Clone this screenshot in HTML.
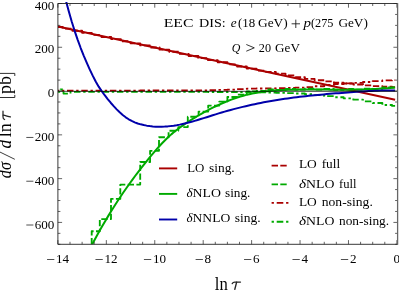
<!DOCTYPE html>
<html><head><meta charset="utf-8"><title>EEC DIS</title>
<style>
html,body{margin:0;padding:0;background:#fff;}
body{width:399px;height:298px;overflow:hidden;}
svg{display:block;}
text{font-family:"Liberation Serif",serif;fill:#000;}
.tk{font-size:13.1px;}
.lg{font-size:12.6px;}
.it{font-style:italic;}
</style></head><body>
<svg width="399" height="298" viewBox="0 0 399 298">
<rect width="399" height="298" fill="#fff"/>
<defs><clipPath id="cp"><rect x="57.9" y="2.1" width="339.7" height="242.2"/></clipPath></defs>
<g clip-path="url(#cp)" fill="none" stroke-linejoin="round">
<path d="M57.9,27.03 L62.74,27.03 L62.74,28.6 L72.43,28.6 L72.43,30.71 L82.11,30.71 L82.11,32.81 L91.8,32.81 L91.8,34.92 L101.49,34.92 L101.49,37.02 L111.17,37.02 L111.17,39.12 L120.86,39.12 L120.86,41.23 L130.54,41.23 L130.54,43.33 L140.23,43.33 L140.23,45.44 L149.91,45.44 L149.91,47.54 L159.6,47.54 L159.6,49.64 L169.29,49.64 L169.29,51.75 L178.97,51.75 L178.97,53.85 L188.66,53.85 L188.66,55.95 L198.34,55.95 L198.34,58.06 L208.03,58.06 L208.03,60.16 L217.71,60.16 L217.71,62.27 L227.4,62.27 L227.4,64.37 L237.09,64.37 L237.09,66.47 L246.77,66.47 L246.77,68.58 L256.46,68.58 L256.46,70.58 L266.14,70.58 L266.14,71.94 L275.83,71.94 L275.83,73.57 L285.51,73.57 L285.51,75.39 L295.2,75.39 L295.2,77.21 L304.89,77.21 L304.89,78.82 L314.57,78.82 L314.57,80.23 L324.26,80.23 L324.26,81.39 L333.94,81.39 L333.94,82.73 L343.63,82.73 L343.63,83.54 L353.31,83.54 L353.31,84.46 L363,84.46 L363,85.43 L372.69,85.43 L372.69,86.14 L382.37,86.14 L382.37,86.78 L392.06,86.78 L392.06,87.2 L395.1,87.2" stroke="#aa0000" stroke-width="1.85" stroke-dasharray="6.3,2.4"/>
<path d="M57.9,90.6 L62.74,90.6 L62.74,90.59 L72.43,90.59 L72.43,90.59 L82.11,90.59 L82.11,90.58 L91.8,90.58 L91.8,90.57 L101.49,90.57 L101.49,90.57 L111.17,90.57 L111.17,90.56 L120.86,90.56 L120.86,90.55 L130.54,90.55 L130.54,90.55 L140.23,90.55 L140.23,90.54 L149.91,90.54 L149.91,90.53 L159.6,90.53 L159.6,90.53 L169.29,90.53 L169.29,90.52 L178.97,90.52 L178.97,90.51 L188.66,90.51 L188.66,90.5 L198.34,90.5 L198.34,90.42 L208.03,90.42 L208.03,90.16 L217.71,90.16 L217.71,89.9 L227.4,89.9 L227.4,89.59 L237.09,89.59 L237.09,89.1 L246.77,89.1 L246.77,88.68 L256.46,88.68 L256.46,88.53 L266.14,88.53 L266.14,88.38 L275.83,88.38 L275.83,88.19 L285.51,88.19 L285.51,87.99 L295.2,87.99 L295.2,87.6 L304.89,87.6 L304.89,87.1 L314.57,87.1 L314.57,86.23 L324.26,86.23 L324.26,84.94 L333.94,84.94 L333.94,84.01 L343.63,84.01 L343.63,83.43 L353.31,83.43 L353.31,82.89 L363,82.89 L363,81.97 L372.69,81.97 L372.69,81.11 L382.37,81.11 L382.37,80.4 L392.06,80.4 L392.06,80.06 L395.1,80.06" stroke="#aa0000" stroke-width="1.85" stroke-dasharray="6.5,2.7,2.4,2.7" stroke-dashoffset="5.2"/>
<path d="M91.7,244.3 L91.7,231.2 L99.8,231.2 L99.8,219.1 L111,219.1 L111,198.9 L120.3,198.9 L120.3,184.6 L140.2,184.6 L140.2,162 L150.1,162 L150.1,150.8 L159,150.8 L159,137.2 L168.6,137.2 L168.6,130.7 L178.3,130.7 L178.3,127.1 L187.8,127.1 L187.8,116.7 L198.6,116.7 L198.6,111.6 L208.2,111.6 L208.2,105.6 L219.3,105.6 L219.3,101.57 L227.4,101.57 L227.4,96.97 L237.09,96.97 L237.09,94.66 L246.77,94.66 L246.77,91.52 L256.46,91.52 L256.46,90.98 L266.14,90.98 L266.14,89.45 L275.83,89.45 L275.83,89.98 L285.51,89.98 L285.51,89 L295.2,89 L295.2,89.63 L304.89,89.63 L304.89,88.78 L314.57,88.78 L314.57,89.61 L324.26,89.61 L324.26,88.87 L333.94,88.87 L333.94,89.72 L343.63,89.72 L343.63,88.91 L353.31,88.91 L353.31,89.61 L363,89.61 L363,88.56 L372.69,88.56 L372.69,88.92 L382.37,88.92 L382.37,87.46 L392.06,87.46 L392.06,87.68 L395.1,87.68" stroke="#00aa00" stroke-width="1.85" stroke-dasharray="6.3,2.4"/>
<path d="M57.9,91.9 L60.5,91.9 L60.5,89.5 L63.5,89.5 L63.5,93.6 L70.5,93.6 L70.5,91.9 L82.11,91.9 L82.11,91.9 L91.8,91.9 L91.8,91.9 L101.49,91.9 L101.49,91.9 L111.17,91.9 L111.17,91.9 L120.86,91.9 L120.86,91.9 L130.54,91.9 L130.54,91.9 L140.23,91.9 L140.23,91.9 L149.91,91.9 L149.91,91.9 L159.6,91.9 L159.6,91.9 L169.29,91.9 L169.29,91.9 L178.97,91.9 L178.97,91.9 L188.66,91.9 L188.66,91.9 L198.34,91.9 L198.34,91.92 L208.03,91.92 L208.03,91.96 L217.71,91.96 L217.71,92.01 L227.4,92.01 L227.4,92.06 L237.09,92.06 L237.09,92.13 L246.77,92.13 L246.77,92.25 L256.46,92.25 L256.46,92.38 L266.14,92.38 L266.14,92.53 L275.83,92.53 L275.83,92.86 L285.51,92.86 L285.51,93.18 L295.2,93.18 L295.2,93.5 L304.89,93.5 L304.89,94.27 L314.57,94.27 L314.57,95.05 L324.26,95.05 L324.26,96.14 L333.94,96.14 L333.94,97.22 L343.63,97.22 L343.63,98.35 L353.31,98.35 L353.31,99.64 L363,99.64 L363,101.33 L372.69,101.33 L372.69,103.02 L382.37,103.02 L382.37,105.03 L392.06,105.03 L392.06,105.91 L395.1,105.91" stroke="#00aa00" stroke-width="1.85" stroke-dasharray="6.5,2.7,2.4,2.7" stroke-dashoffset="4.3"/>
<path d="M57.9,26.5 L395.1,99.71" stroke="#aa0000" stroke-width="2"/>
<path d="M90.3,247.79 L93.3,242.19 L96.3,236.7 L99.3,231.32 L102.3,226.05 L105.3,220.91 L108.3,215.88 L111.3,210.97 L114.3,206.19 L117.3,201.53 L120.3,196.98 L123.3,192.53 L126.3,188.2 L129.3,183.96 L132.3,179.81 L135.3,175.76 L138.3,171.79 L141.3,167.89 L144.3,164.08 L147.3,160.33 L150.3,156.66 L153.3,153.06 L156.3,149.57 L159.3,146.21 L162.3,142.99 L165.3,139.93 L168.3,137.06 L171.3,134.37 L174.3,131.85 L177.3,129.48 L180.3,127.22 L183.3,125.07 L186.3,123.01 L189.3,121.02 L192.3,119.12 L195.3,117.29 L198.3,115.51 L201.3,113.79 L204.3,112.13 L207.3,110.51 L210.3,108.95 L213.3,107.44 L216.3,105.99 L219.3,104.59 L222.3,103.26 L225.3,101.99 L228.3,100.78 L231.3,99.63 L234.3,98.55 L237.3,97.53 L240.3,96.58 L243.3,95.71 L246.3,94.9 L249.3,94.16 L252.3,93.5 L255.3,92.91 L258.3,92.39 L261.3,91.93 L264.3,91.52 L267.3,91.17 L270.3,90.87 L273.3,90.62 L276.3,90.4 L279.3,90.22 L282.3,90.07 L285.3,89.95 L288.3,89.85 L291.3,89.77 L294.3,89.7 L297.3,89.65 L300.3,89.61 L303.3,89.58 L306.3,89.57 L309.3,89.56 L312.3,89.56 L315.3,89.56 L318.3,89.57 L321.3,89.59 L324.3,89.6 L327.3,89.62 L330.3,89.64 L333.3,89.65 L336.3,89.66 L339.3,89.67 L342.3,89.67 L345.3,89.67 L348.3,89.66 L351.3,89.64 L354.3,89.6 L357.3,89.56 L360.3,89.5 L363.3,89.43 L366.3,89.34 L369.3,89.23 L372.3,89.11 L375.3,88.97 L378.3,88.8 L381.3,88.61 L384.3,88.4 L387.3,88.17 L390.3,87.9 L393.3,87.61 L395.1,87.42" stroke="#00aa00" stroke-width="2"/>
<path d="M65.7,-0.22 L68.7,11.11 L71.7,21.51 L74.7,31.07 L77.7,39.87 L80.7,48.01 L83.7,55.57 L86.7,62.64 L89.7,69.31 L92.7,75.64 L95.7,81.51 L98.7,86.65 L101.7,91.11 L104.7,95.22 L107.7,99.09 L110.7,102.73 L113.7,106.16 L116.7,109.37 L119.7,112.33 L122.7,114.99 L125.7,117.31 L128.7,119.29 L131.7,120.95 L134.7,122.32 L137.7,123.44 L140.7,124.34 L143.7,125.07 L146.7,125.64 L149.7,126.09 L152.7,126.42 L155.7,126.63 L158.7,126.73 L161.7,126.72 L164.7,126.6 L167.7,126.38 L170.7,126.07 L173.7,125.66 L176.7,125.17 L179.7,124.61 L182.7,123.97 L185.7,123.27 L188.7,122.51 L191.7,121.7 L194.7,120.85 L197.7,119.97 L200.7,119.06 L203.7,118.13 L206.7,117.18 L209.7,116.23 L212.7,115.28 L215.7,114.34 L218.7,113.41 L221.7,112.51 L224.7,111.63 L227.7,110.78 L230.7,109.95 L233.7,109.14 L236.7,108.36 L239.7,107.6 L242.7,106.87 L245.7,106.16 L248.7,105.47 L251.7,104.8 L254.7,104.16 L257.7,103.53 L260.7,102.93 L263.7,102.35 L266.7,101.79 L269.7,101.25 L272.7,100.73 L275.7,100.23 L278.7,99.75 L281.7,99.28 L284.7,98.84 L287.7,98.41 L290.7,98 L293.7,97.61 L296.7,97.23 L299.7,96.86 L302.7,96.51 L305.7,96.18 L308.7,95.85 L311.7,95.54 L314.7,95.24 L317.7,94.94 L320.7,94.66 L323.7,94.39 L326.7,94.12 L329.7,93.87 L332.7,93.62 L335.7,93.37 L338.7,93.13 L341.7,92.9 L344.7,92.67 L347.7,92.44 L350.7,92.22 L353.7,92 L356.7,91.79 L359.7,91.59 L362.7,91.4 L365.7,91.23 L368.7,91.07 L371.7,90.92 L374.7,90.79 L377.7,90.69 L380.7,90.6 L383.7,90.54 L386.7,90.5 L389.7,90.49 L392.7,90.5 L395.1,90.53" stroke="#0000aa" stroke-width="2"/>
<path d="M57.9,91.31 H397.6" stroke="#000" stroke-width="0.75"/>
</g>
<path d="M57.9,244.3 v-4.2 M57.9,3.5 v4.2 M70.01,244.3 v-2.5 M70.01,3.5 v2.5 M82.11,244.3 v-2.5 M82.11,3.5 v2.5 M94.22,244.3 v-2.5 M94.22,3.5 v2.5 M106.33,244.3 v-4.2 M106.33,3.5 v4.2 M118.44,244.3 v-2.5 M118.44,3.5 v2.5 M130.54,244.3 v-2.5 M130.54,3.5 v2.5 M142.65,244.3 v-2.5 M142.65,3.5 v2.5 M154.76,244.3 v-4.2 M154.76,3.5 v4.2 M166.86,244.3 v-2.5 M166.86,3.5 v2.5 M178.97,244.3 v-2.5 M178.97,3.5 v2.5 M191.08,244.3 v-2.5 M191.08,3.5 v2.5 M203.19,244.3 v-4.2 M203.19,3.5 v4.2 M215.29,244.3 v-2.5 M215.29,3.5 v2.5 M227.4,244.3 v-2.5 M227.4,3.5 v2.5 M239.51,244.3 v-2.5 M239.51,3.5 v2.5 M251.61,244.3 v-4.2 M251.61,3.5 v4.2 M263.72,244.3 v-2.5 M263.72,3.5 v2.5 M275.83,244.3 v-2.5 M275.83,3.5 v2.5 M287.94,244.3 v-2.5 M287.94,3.5 v2.5 M300.04,244.3 v-4.2 M300.04,3.5 v4.2 M312.15,244.3 v-2.5 M312.15,3.5 v2.5 M324.26,244.3 v-2.5 M324.26,3.5 v2.5 M336.36,244.3 v-2.5 M336.36,3.5 v2.5 M348.47,244.3 v-4.2 M348.47,3.5 v4.2 M360.58,244.3 v-2.5 M360.58,3.5 v2.5 M372.69,244.3 v-2.5 M372.69,3.5 v2.5 M384.79,244.3 v-2.5 M384.79,3.5 v2.5 M396.9,244.3 v-4.2 M396.9,3.5 v4.2 M57.9,244.3 h2.5 M397.6,244.3 h-2.5 M57.9,233.35 h2.5 M397.6,233.35 h-2.5 M57.9,222.41 h4.2 M397.6,222.41 h-4.2 M57.9,211.46 h2.5 M397.6,211.46 h-2.5 M57.9,200.52 h2.5 M397.6,200.52 h-2.5 M57.9,189.57 h2.5 M397.6,189.57 h-2.5 M57.9,178.63 h4.2 M397.6,178.63 h-4.2 M57.9,167.68 h2.5 M397.6,167.68 h-2.5 M57.9,156.74 h2.5 M397.6,156.74 h-2.5 M57.9,145.79 h2.5 M397.6,145.79 h-2.5 M57.9,134.85 h4.2 M397.6,134.85 h-4.2 M57.9,123.9 h2.5 M397.6,123.9 h-2.5 M57.9,112.95 h2.5 M397.6,112.95 h-2.5 M57.9,102.01 h2.5 M397.6,102.01 h-2.5 M57.9,91.06 h4.2 M397.6,91.06 h-4.2 M57.9,80.12 h2.5 M397.6,80.12 h-2.5 M57.9,69.17 h2.5 M397.6,69.17 h-2.5 M57.9,58.23 h2.5 M397.6,58.23 h-2.5 M57.9,47.28 h4.2 M397.6,47.28 h-4.2 M57.9,36.34 h2.5 M397.6,36.34 h-2.5 M57.9,25.39 h2.5 M397.6,25.39 h-2.5 M57.9,14.45 h2.5 M397.6,14.45 h-2.5 M57.9,3.5 h4.2 M397.6,3.5 h-4.2" stroke="#222" stroke-width="0.7" fill="none"/>
<path d="M397.6,3.5 H57.9 V244.3 H397.6" fill="none" stroke="#222" stroke-width="0.9"/>
<path d="M397.6,3.05 V244.75" fill="none" stroke="#666" stroke-width="1.3"/>
<g fill="none" stroke-width="1.9">
<path d="M159,168.4 H177.2" stroke="#aa0000"/>
<path d="M159,193.9 H177.2" stroke="#00aa00"/>
<path d="M159,219.5 H177.2" stroke="#0000aa"/>
<path d="M271.6,165.6 H286.8" stroke="#aa0000" stroke-dasharray="6.4,2.3"/>
<path d="M271.6,184.4 H286.8" stroke="#00aa00" stroke-dasharray="6.4,2.3"/>
<path d="M271.6,202.9 H288.4" stroke="#aa0000" stroke-dasharray="2.3,2.8,6.6,2.8"/>
<path d="M271.6,221.8 H288.4" stroke="#00aa00" stroke-dasharray="2.3,2.8,6.6,2.8"/>
</g>
<g opacity="0.99" style="filter:grayscale(1)">
<path d="M47.05,259.5 h7.3" stroke="#222" stroke-width="0.8"/><text x="56.05" y="263.2" class="tk">14</text><path d="M95.48,259.5 h7.3" stroke="#222" stroke-width="0.8"/><text x="104.48" y="263.2" class="tk">12</text><path d="M143.91,259.5 h7.3" stroke="#222" stroke-width="0.8"/><text x="152.91" y="263.2" class="tk">10</text><path d="M195.61,259.5 h7.3" stroke="#222" stroke-width="0.8"/><text x="204.61" y="263.2" class="tk">8</text><path d="M244.04,259.5 h7.3" stroke="#222" stroke-width="0.8"/><text x="253.04" y="263.2" class="tk">6</text><path d="M292.47,259.5 h7.3" stroke="#222" stroke-width="0.8"/><text x="301.47" y="263.2" class="tk">4</text><path d="M340.9,259.5 h7.3" stroke="#222" stroke-width="0.8"/><text x="349.9" y="263.2" class="tk">2</text><text x="393.62" y="263.2" class="tk">0</text><text x="54.4" y="9.7" class="tk" text-anchor="end">400</text><text x="54.4" y="53.48" class="tk" text-anchor="end">200</text><text x="54.4" y="97.26" class="tk" text-anchor="end">0</text><text x="54.4" y="141.05" class="tk" text-anchor="end">200</text><path d="M26.3,137.45 h7.1" stroke="#222" stroke-width="0.8"/><text x="54.4" y="184.83" class="tk" text-anchor="end">400</text><path d="M26.3,181.23 h7.1" stroke="#222" stroke-width="0.8"/><text x="54.4" y="228.61" class="tk" text-anchor="end">600</text><path d="M26.3,225.01 h7.1" stroke="#222" stroke-width="0.8"/>
<text x="163.7" y="26.8" style="font-size:13.2px;" textLength="29.7" lengthAdjust="spacingAndGlyphs">EEC</text>
<text x="199.1" y="26.8" style="font-size:13.2px;" textLength="26.7" lengthAdjust="spacingAndGlyphs">DIS:</text>
<text x="230.8" y="26.8" style="font-size:13.2px;font-style:italic;" textLength="5.9" lengthAdjust="spacingAndGlyphs">e</text>
<text x="237.9" y="26.8" style="font-size:13.2px;" textLength="17.2" lengthAdjust="spacingAndGlyphs">(18</text>
<text x="258" y="26.8" style="font-size:13.2px;" textLength="29.7" lengthAdjust="spacingAndGlyphs">GeV)</text>
<text x="303.5" y="26.8" style="font-size:13.2px;font-style:italic;" textLength="7.5" lengthAdjust="spacingAndGlyphs">p</text>
<text x="311" y="26.8" style="font-size:13.2px;" textLength="22.5" lengthAdjust="spacingAndGlyphs">(275</text>
<text x="338.4" y="26.8" style="font-size:13.2px;" textLength="29.5" lengthAdjust="spacingAndGlyphs">GeV)</text>
<text x="231.7" y="51.6" style="font-size:13.2px;font-style:italic;" textLength="8.6" lengthAdjust="spacingAndGlyphs">Q</text>
<text x="258.8" y="51.6" style="font-size:13.2px;" textLength="12.2" lengthAdjust="spacingAndGlyphs">20</text>
<text x="275.1" y="51.6" style="font-size:13.2px;" textLength="24.8" lengthAdjust="spacingAndGlyphs">GeV</text>
<path d="M291.6,23.8 H300 M295.8,19.6 V28 M246.3,44.5 L254.3,47.85 L246.3,51.2" fill="none" stroke="#111" stroke-width="0.85"/>
<text x="187.2" y="171.8" style="font-size:13.2px;" textLength="17.2" lengthAdjust="spacingAndGlyphs">LO</text>
<text x="209" y="171.8" style="font-size:13.2px;" textLength="25.7" lengthAdjust="spacingAndGlyphs">sing.</text>
<text x="186.4" y="197.3" style="font-size:13.2px;font-style:italic;" textLength="6.1" lengthAdjust="spacingAndGlyphs">δ</text>
<text x="192.5" y="197.3" style="font-size:13.2px;" textLength="28.4" lengthAdjust="spacingAndGlyphs">NLO</text>
<text x="225" y="197.3" style="font-size:13.2px;" textLength="25.4" lengthAdjust="spacingAndGlyphs">sing.</text>
<text x="186.4" y="222.3" style="font-size:13.2px;font-style:italic;" textLength="6.1" lengthAdjust="spacingAndGlyphs">δ</text>
<text x="192.5" y="222.3" style="font-size:13.2px;" textLength="37.8" lengthAdjust="spacingAndGlyphs">NNLO</text>
<text x="234.7" y="222.3" style="font-size:13.2px;" textLength="25.9" lengthAdjust="spacingAndGlyphs">sing.</text>
<text x="298.9" y="168.4" style="font-size:13.2px;" textLength="17.9" lengthAdjust="spacingAndGlyphs">LO</text>
<text x="321.7" y="168.4" style="font-size:13.2px;" textLength="18.5" lengthAdjust="spacingAndGlyphs">full</text>
<text x="298.9" y="187.6" style="font-size:13.2px;font-style:italic;" textLength="7.1" lengthAdjust="spacingAndGlyphs">δ</text>
<text x="306.1" y="187.6" style="font-size:13.2px;" textLength="28.3" lengthAdjust="spacingAndGlyphs">NLO</text>
<text x="339" y="187.6" style="font-size:13.2px;" textLength="17.5" lengthAdjust="spacingAndGlyphs">full</text>
<text x="298.9" y="206" style="font-size:13.2px;" textLength="17.9" lengthAdjust="spacingAndGlyphs">LO</text>
<text x="321.7" y="206" style="font-size:13.2px;" textLength="51.1" lengthAdjust="spacingAndGlyphs">non-sing.</text>
<text x="298.9" y="224.9" style="font-size:13.2px;font-style:italic;" textLength="7.1" lengthAdjust="spacingAndGlyphs">δ</text>
<text x="306.1" y="224.9" style="font-size:13.2px;" textLength="28.3" lengthAdjust="spacingAndGlyphs">NLO</text>
<text x="339" y="224.9" style="font-size:13.2px;" textLength="50.1" lengthAdjust="spacingAndGlyphs">non-sing.</text>
<text x="214.8" y="289.5" style="font-size:18px;" textLength="13" lengthAdjust="spacingAndGlyphs">ln</text>
<g transform="translate(232.1,289.5)" fill="none" stroke="#222" stroke-linecap="round"><path d="M0.1,-5.9 C0.7,-7.1 1.5,-7.5 2.7,-7.5 L8.4,-7.5" stroke-width="1.25"/><path d="M4.5,-7.3 C4.1,-5 3.1,-2.3 2.7,-0.1" stroke-width="1.35"/></g>
<g transform="translate(10.5,177.9) rotate(-90)"><text x="-0.3" y="0" style="font-size:18px;font-style:italic;" textLength="16.2" lengthAdjust="spacingAndGlyphs">dσ</text><path d="M18.6,4.3 L27.2,-13.3" stroke="#222" stroke-width="0.9" fill="none"/><text x="29.3" y="0" style="font-size:18px;font-style:italic;" textLength="8.6" lengthAdjust="spacingAndGlyphs">d</text><text x="40.6" y="0" style="font-size:18px;" textLength="14" lengthAdjust="spacingAndGlyphs">ln</text><g transform="translate(58.3,0)" fill="none" stroke="#222" stroke-linecap="round"><path d="M0.1,-5.9 C0.7,-7.1 1.5,-7.5 2.7,-7.5 L8.4,-7.5" stroke-width="1.25"/><path d="M4.5,-7.3 C4.1,-5 3.1,-2.3 2.7,-0.1" stroke-width="1.35"/></g><path d="M83,-13.5 H80.4 V4.3 H83 M101.9,-13.5 H104.5 V4.3 H101.9" fill="none" stroke="#222" stroke-width="0.95"/><text x="83.9" y="0" style="font-size:18px;" textLength="17.9" lengthAdjust="spacingAndGlyphs">pb</text></g>
</g>
</svg>
</body></html>
